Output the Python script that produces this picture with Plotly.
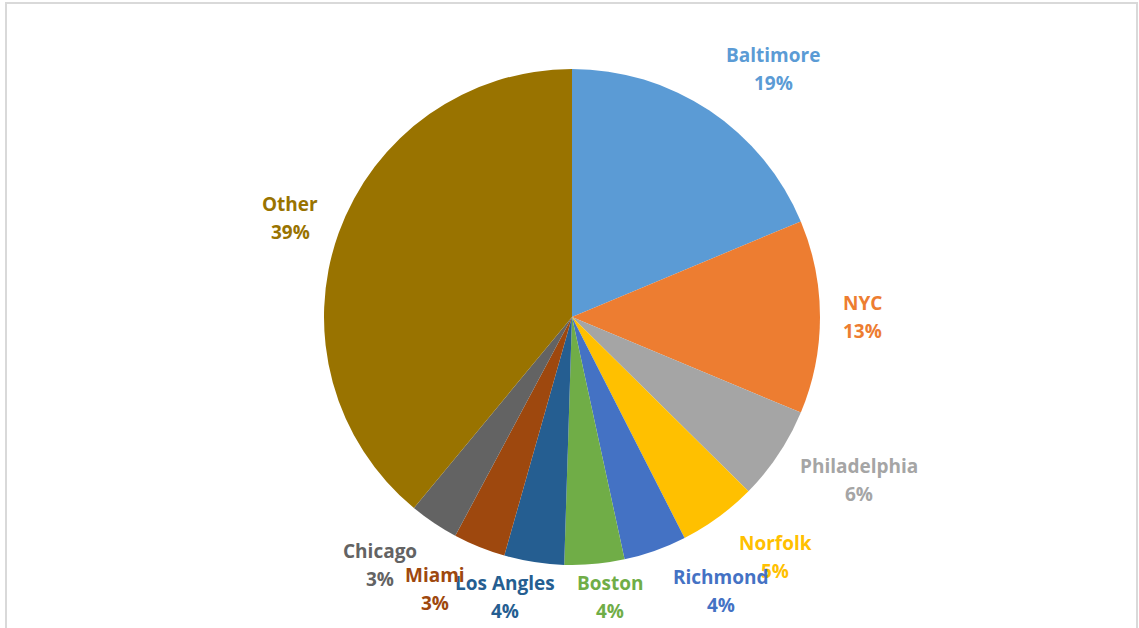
import plotly.graph_objects as go

# Share of shipments by city
cities = ["Baltimore", "NYC", "Philadelphia", "Norfolk", "Richmond",
          "Boston", "Los Angles", "Miami", "Chicago", "Other"]
shares = [18.7, 12.6, 6.1, 5.1, 4.1, 3.9, 3.9, 3.4, 3.2, 39.0]
colors = ["#5B9BD5", "#ED7D31", "#A5A5A5", "#FFC000", "#4472C4",
          "#70AD47", "#255E91", "#9E480E", "#636363", "#997300"]

W, H = 1139, 628
CX, CY, R = 572, 317, 248
LINE_GAP = 28  # px between the name line and the percent line

# Label block centres in pixels (data-label layout)
label_px = [(773, 69), (862, 317), (859, 480), (775, 557), (721, 591),
            (610, 597), (505, 597), (435, 589), (380, 565), (290, 218)]

fig = go.Figure(go.Pie(
    labels=cities,
    values=shares,
    sort=False,
    direction="clockwise",
    rotation=0,
    marker=dict(colors=colors, line=dict(width=0)),
    textinfo="none",
    hoverinfo="label+percent",
    showlegend=False,
    domain=dict(x=[(CX - R) / W, (CX + R) / W],
                y=[1 - (CY + R) / H, 1 - (CY - R) / H]),
))

total = sum(shares)
for name, val, col, (px, py) in zip(cities, shares, colors, label_px):
    lines = [name, f"{round(val / total * 100)}%"]
    for i, txt in enumerate(lines):
        ly = py + (i - 0.5) * LINE_GAP
        fig.add_annotation(
            x=px / W, y=1 - ly / H, xref="paper", yref="paper",
            text=f"<b>{txt}</b>",
            showarrow=False, xanchor="center", yanchor="middle",
            font=dict(family="Open Sans", size=19, color=col),
        )

# Chart area frame
fig.add_shape(type="rect", xref="paper", yref="paper",
              x0=6 / W, x1=1137 / W, y0=-0.02, y1=1 - 3 / H,
              line=dict(color="#D9D9D9", width=2), fillcolor="rgba(0,0,0,0)")

fig.update_layout(
    width=W, height=H,
    margin=dict(l=0, r=0, t=0, b=0),
    paper_bgcolor="white",
    plot_bgcolor="white",
)

fig.write_html("out.html")
